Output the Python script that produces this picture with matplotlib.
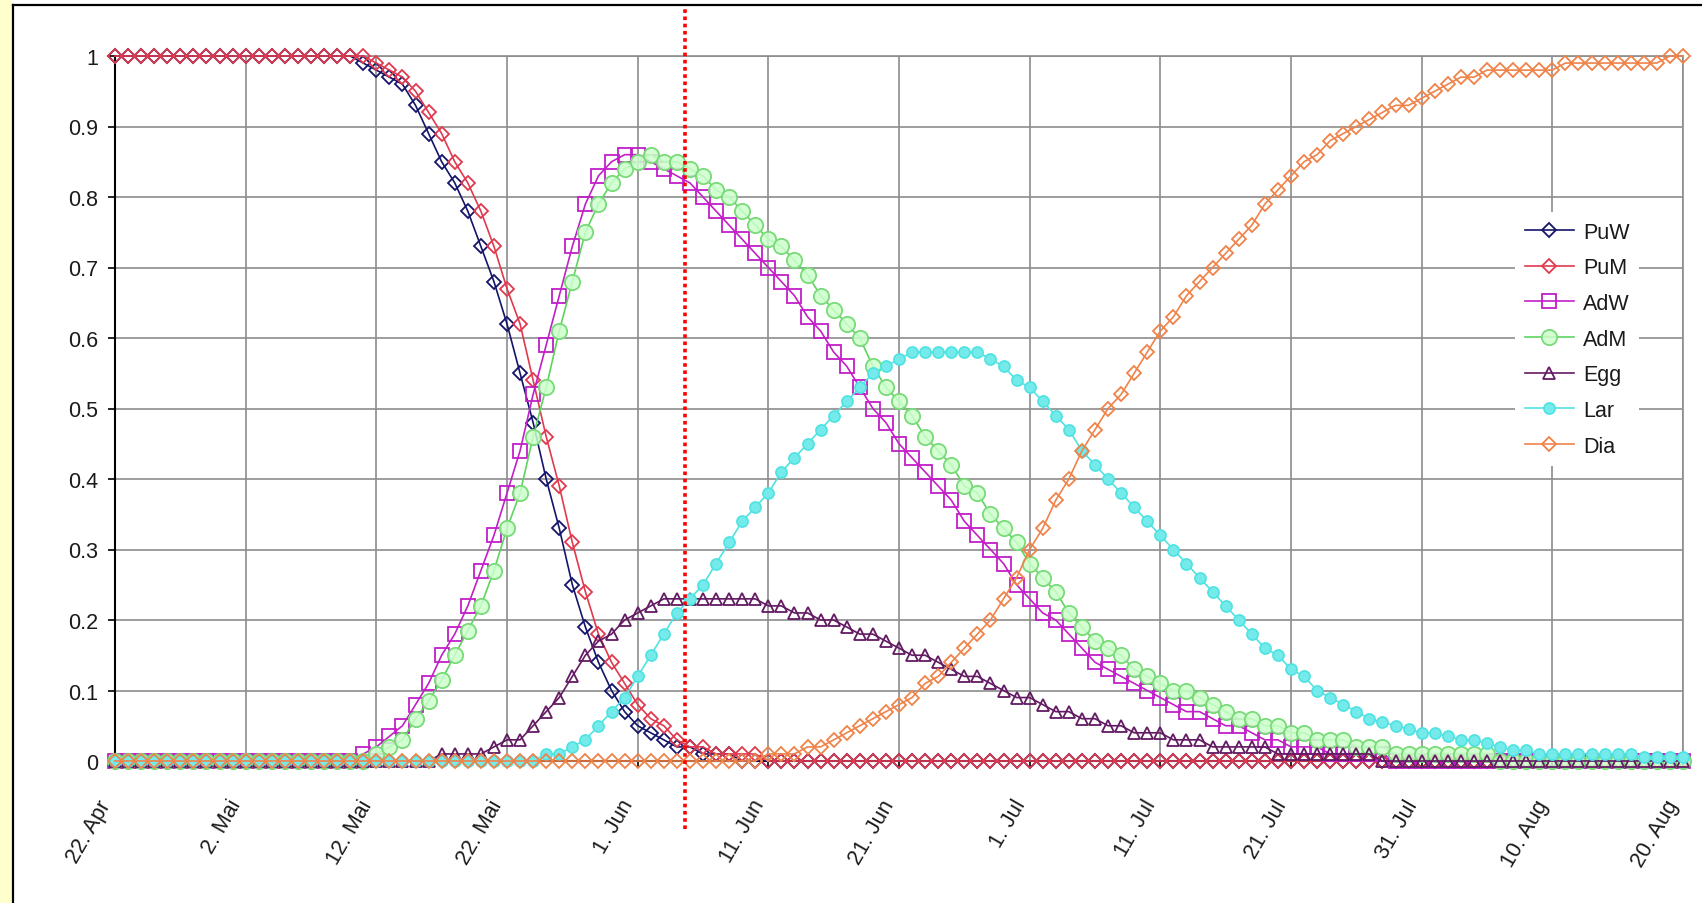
import matplotlib
matplotlib.use('Agg')
import matplotlib.pyplot as plt
from matplotlib.lines import Line2D
from matplotlib.patches import Rectangle
import numpy as np

plt.rcParams['font.family'] = ['Liberation Sans', 'DejaVu Sans']

# ---------------- data ----------------
tick_days = [0, 10, 20, 30, 40, 50, 60, 70, 80, 90, 100, 110, 120]
tick_labels = ['22. Apr', '2. Mai', '12. Mai', '22. Mai', '1. Jun', '11. Jun',
               '21. Jun', '1. Jul', '11. Jul', '21. Jul', '31. Jul', '10. Aug',
               '20. Aug']
y_ticks = [0, 0.1, 0.2, 0.3, 0.4, 0.5, 0.6, 0.7, 0.8, 0.9, 1.0]
y_labels = ['0', '0.1', '0.2', '0.3', '0.4', '0.5', '0.6', '0.7', '0.8', '0.9', '1']
marker_day = 43.6   # red dotted reference line

PuW = [1, 1, 1, 1, 1, 1, 1, 1, 1, 1,
       1, 1, 1, 1, 1, 1, 1, 1, 1, 0.99,
       0.98, 0.97, 0.96, 0.93, 0.89, 0.85, 0.82, 0.78, 0.73, 0.68,
       0.62, 0.55, 0.48, 0.40, 0.33, 0.25, 0.19, 0.14, 0.10, 0.07,
       0.05, 0.04, 0.03, 0.02, 0.02, 0.01, 0.01, 0.01, 0, 0,
       0, 0, 0, 0, 0, 0, 0, 0, 0, 0,
       0, 0, 0, 0, 0, 0, 0, 0, 0, 0,
       0, 0, 0, 0, 0, 0, 0, 0, 0, 0,
       0, 0, 0, 0, 0, 0, 0, 0, 0, 0,
       0, 0, 0, 0, 0, 0, 0, 0, 0, 0,
       0, 0, 0, 0, 0, 0, 0, 0, 0, 0,
       0, 0, 0, 0, 0, 0, 0, 0, 0, 0,
       0]
PuM = [1, 1, 1, 1, 1, 1, 1, 1, 1, 1,
       1, 1, 1, 1, 1, 1, 1, 1, 1, 1,
       0.99, 0.98, 0.97, 0.95, 0.92, 0.89, 0.85, 0.82, 0.78, 0.73,
       0.67, 0.62, 0.54, 0.46, 0.39, 0.31, 0.24, 0.18, 0.14, 0.11,
       0.08, 0.06, 0.05, 0.03, 0.02, 0.02, 0.01, 0.01, 0.01, 0.01,
       0, 0, 0, 0, 0, 0, 0, 0, 0, 0,
       0, 0, 0, 0, 0, 0, 0, 0, 0, 0,
       0, 0, 0, 0, 0, 0, 0, 0, 0, 0,
       0, 0, 0, 0, 0, 0, 0, 0, 0, 0,
       0, 0, 0, 0, 0, 0, 0, 0, 0, 0,
       0, 0, 0, 0, 0, 0, 0, 0, 0, 0,
       0, 0, 0, 0, 0, 0, 0, 0, 0, 0,
       0]
AdW = [0, 0, 0, 0, 0, 0, 0, 0, 0, 0,
       0, 0, 0, 0, 0, 0, 0, 0, 0, 0.01,
       0.02, 0.035, 0.05, 0.08, 0.11, 0.15, 0.18, 0.22, 0.27, 0.32,
       0.38, 0.44, 0.52, 0.59, 0.66, 0.73, 0.79, 0.83, 0.85, 0.86,
       0.86, 0.85, 0.84, 0.83, 0.82, 0.80, 0.78, 0.76, 0.74, 0.72,
       0.70, 0.68, 0.66, 0.63, 0.61, 0.58, 0.56, 0.53, 0.50, 0.48,
       0.45, 0.43, 0.41, 0.39, 0.37, 0.34, 0.32, 0.30, 0.28, 0.25,
       0.23, 0.21, 0.20, 0.18, 0.16, 0.14, 0.13, 0.12, 0.11, 0.10,
       0.09, 0.08, 0.07, 0.07, 0.06, 0.05, 0.05, 0.04, 0.03, 0.03,
       0.02, 0.02, 0.02, 0.01, 0.01, 0.01, 0.01, 0.01, 0, 0,
       0, 0, 0, 0, 0, 0, 0, 0, 0, 0,
       0, 0, 0, 0, 0, 0, 0, 0, 0, 0,
       0]
AdM = [0, 0, 0, 0, 0, 0, 0, 0, 0, 0,
       0, 0, 0, 0, 0, 0, 0, 0, 0, 0,
       0.01, 0.02, 0.03, 0.06, 0.085, 0.115, 0.15, 0.185, 0.22, 0.27,
       0.33, 0.38, 0.46, 0.53, 0.61, 0.68, 0.75, 0.79, 0.82, 0.84,
       0.85, 0.86, 0.85, 0.85, 0.84, 0.83, 0.81, 0.80, 0.78, 0.76,
       0.74, 0.73, 0.71, 0.69, 0.66, 0.64, 0.62, 0.60, 0.56, 0.53,
       0.51, 0.49, 0.46, 0.44, 0.42, 0.39, 0.38, 0.35, 0.33, 0.31,
       0.28, 0.26, 0.24, 0.21, 0.19, 0.17, 0.16, 0.15, 0.13, 0.12,
       0.11, 0.10, 0.10, 0.09, 0.08, 0.07, 0.06, 0.06, 0.05, 0.05,
       0.04, 0.04, 0.03, 0.03, 0.03, 0.02, 0.02, 0.02, 0.01, 0.01,
       0.01, 0.01, 0.01, 0.01, 0.01, 0.01, 0, 0, 0, 0,
       0, 0, 0, 0, 0, 0, 0, 0, 0, 0,
       0]
Egg = [0, 0, 0, 0, 0, 0, 0, 0, 0, 0,
       0, 0, 0, 0, 0, 0, 0, 0, 0, 0,
       0, 0, 0, 0, 0, 0.01, 0.01, 0.01, 0.01, 0.02,
       0.03, 0.03, 0.05, 0.07, 0.09, 0.12, 0.15, 0.17, 0.18, 0.20,
       0.21, 0.22, 0.23, 0.23, 0.23, 0.23, 0.23, 0.23, 0.23, 0.23,
       0.22, 0.22, 0.21, 0.21, 0.20, 0.20, 0.19, 0.18, 0.18, 0.17,
       0.16, 0.15, 0.15, 0.14, 0.13, 0.12, 0.12, 0.11, 0.10, 0.09,
       0.09, 0.08, 0.07, 0.07, 0.06, 0.06, 0.05, 0.05, 0.04, 0.04,
       0.04, 0.03, 0.03, 0.03, 0.02, 0.02, 0.02, 0.02, 0.02, 0.01,
       0.01, 0.01, 0.01, 0.01, 0.01, 0.01, 0.01, 0, 0, 0,
       0, 0, 0, 0, 0, 0, 0, 0, 0, 0,
       0, 0, 0, 0, 0, 0, 0, 0, 0, 0,
       0]
Lar = [0, 0, 0, 0, 0, 0, 0, 0, 0, 0,
       0, 0, 0, 0, 0, 0, 0, 0, 0, 0,
       0, 0, 0, 0, 0, 0, 0, 0, 0, 0,
       0, 0, 0, 0.01, 0.01, 0.02, 0.03, 0.05, 0.07, 0.09,
       0.12, 0.15, 0.18, 0.21, 0.23, 0.25, 0.28, 0.31, 0.34, 0.36,
       0.38, 0.41, 0.43, 0.45, 0.47, 0.49, 0.51, 0.53, 0.55, 0.56,
       0.57, 0.58, 0.58, 0.58, 0.58, 0.58, 0.58, 0.57, 0.56, 0.54,
       0.53, 0.51, 0.49, 0.47, 0.44, 0.42, 0.40, 0.38, 0.36, 0.34,
       0.32, 0.30, 0.28, 0.26, 0.24, 0.22, 0.20, 0.18, 0.16, 0.15,
       0.13, 0.12, 0.10, 0.09, 0.08, 0.07, 0.06, 0.055, 0.05, 0.045,
       0.04, 0.04, 0.035, 0.03, 0.03, 0.025, 0.02, 0.015, 0.015, 0.01,
       0.01, 0.01, 0.01, 0.01, 0.01, 0.01, 0.01, 0.005, 0.005, 0.005,
       0.005]
Dia = [0, 0, 0, 0, 0, 0, 0, 0, 0, 0,
       0, 0, 0, 0, 0, 0, 0, 0, 0, 0,
       0, 0, 0, 0, 0, 0, 0, 0, 0, 0,
       0, 0, 0, 0, 0, 0, 0, 0, 0, 0,
       0, 0, 0, 0, 0, 0, 0, 0, 0, 0,
       0.01, 0.01, 0.01, 0.02, 0.02, 0.03, 0.04, 0.05, 0.06, 0.07,
       0.08, 0.09, 0.11, 0.12, 0.14, 0.16, 0.18, 0.20, 0.23, 0.26,
       0.30, 0.33, 0.37, 0.40, 0.44, 0.47, 0.50, 0.52, 0.55, 0.58,
       0.61, 0.63, 0.66, 0.68, 0.70, 0.72, 0.74, 0.76, 0.79, 0.81,
       0.83, 0.85, 0.86, 0.88, 0.89, 0.90, 0.91, 0.92, 0.93, 0.93,
       0.94, 0.95, 0.96, 0.97, 0.97, 0.98, 0.98, 0.98, 0.98, 0.98,
       0.98, 0.99, 0.99, 0.99, 0.99, 0.99, 0.99, 0.99, 0.99, 1.0,
       1.0]

series_names = ['PuW', 'PuM', 'AdW', 'AdM', 'Egg', 'Lar', 'Dia']
series_values = [PuW, PuM, AdW, AdM, Egg, Lar, Dia]

# ---------------- styles ----------------
styles = {
    'PuW': dict(color='#14146a', lw=1.2, marker='D', ms=6.8, mfc='none', mec='#14146a', mew=1.3),
    'PuM': dict(color='#e03a4e', lw=1.2, marker='D', ms=6.8, mfc='none', mec='#e03a4e', mew=1.3),
    'AdW': dict(color='#c21fc8', lw=1.2, marker='s', ms=9.5, mfc='none', mec='#c21fc8', mew=1.3),
    'AdM': dict(color='#5fd35f', lw=1.2, marker='o', ms=11.0, mfc=(0.80, 1.0, 0.80, 0.85), mec='#78da78', mew=1.3),
    'Egg': dict(color='#621a62', lw=1.2, marker='^', ms=8.5, mfc='none', mec='#621a62', mew=1.3),
    'Lar': dict(color='#4fe2e2', lw=1.2, marker='o', ms=8.0, mfc='#74eaea', mec='#4fe2e2', mew=1.2),
    'Dia': dict(color='#f0834a', lw=1.2, marker='D', ms=6.8, mfc='none', mec='#f0834a', mew=1.3),
}

W, H = 1702, 904
fig = plt.figure(figsize=(W / 100, H / 100), dpi=100)
fig.patch.set_facecolor('white')

# outer decoration (yellow strip and chart border)
fig.add_artist(Rectangle((0, 0), 12 / W, 1, transform=fig.transFigure,
                         facecolor='#ffffcc', edgecolor='none', zorder=0))
fig.add_artist(Line2D([12.5 / W, 12.5 / W], [0, 1 - 6 / H], transform=fig.transFigure,
                      color='black', lw=1.6, zorder=1))
fig.add_artist(Line2D([12.5 / W, 1], [1 - 6 / H, 1 - 6 / H], transform=fig.transFigure,
                      color='black', lw=1.6, zorder=1))

left, right, top, bottom = 115, 1683, 57, 762
ax = fig.add_axes([left / W, 1 - bottom / H, (right - left) / W, (bottom - top) / H])
ax.set_facecolor('white')

days = np.arange(len(PuW))
handles = []
for i, (name, vals) in enumerate(zip(series_names, series_values)):
    st = styles[name]
    ln, = ax.plot(days, vals, clip_on=False, zorder=3 + i, label=name, **st)
    handles.append(ln)

ax.set_xlim(0, 120)
ax.set_ylim(0, 1)
ax.set_xticks(tick_days)
ax.set_xticklabels(tick_labels, rotation=60, ha='right', va='top')
ax.set_yticks(y_ticks)
ax.set_yticklabels(y_labels)

ax.grid(True, color='#8c8c8c', lw=1.2)
ax.set_axisbelow(True)
for s in ['top', 'right']:
    ax.spines[s].set_color('#8c8c8c')
    ax.spines[s].set_linewidth(1.2)
for s in ['left', 'bottom']:
    ax.spines[s].set_color('black')
    ax.spines[s].set_linewidth(1.5)

ax.tick_params(axis='y', direction='out', length=5, width=1.2, pad=7,
               labelsize=15.5, labelcolor='#1a1a1a')
ax.tick_params(axis='x', direction='out', length=4, width=1.2, pad=21,
               labelsize=15.5, labelcolor='#1a1a1a')

# red dotted reference line
ax.axvline(marker_day, ymin=(bottom - 830) / (bottom - top), ymax=(bottom - 6) / (bottom - top),
           color='#ff0000', lw=2.6, ls=(0, (1, 1)), clip_on=False, zorder=20)

leg = ax.legend(handles=handles, loc='upper left',
                bbox_to_anchor=(1515 / W, 1 - 213 / H), bbox_transform=fig.transFigure,
                frameon=True, fancybox=False, edgecolor='none', facecolor='white',
                framealpha=1, borderpad=0.45, handlelength=2.3, handletextpad=0.4,
                labelspacing=0.68, fontsize=15.5, borderaxespad=0)
leg.set_zorder(30)
for t in leg.get_texts():
    t.set_color('#1a1a1a')

fig.savefig('out.png', dpi=100)
